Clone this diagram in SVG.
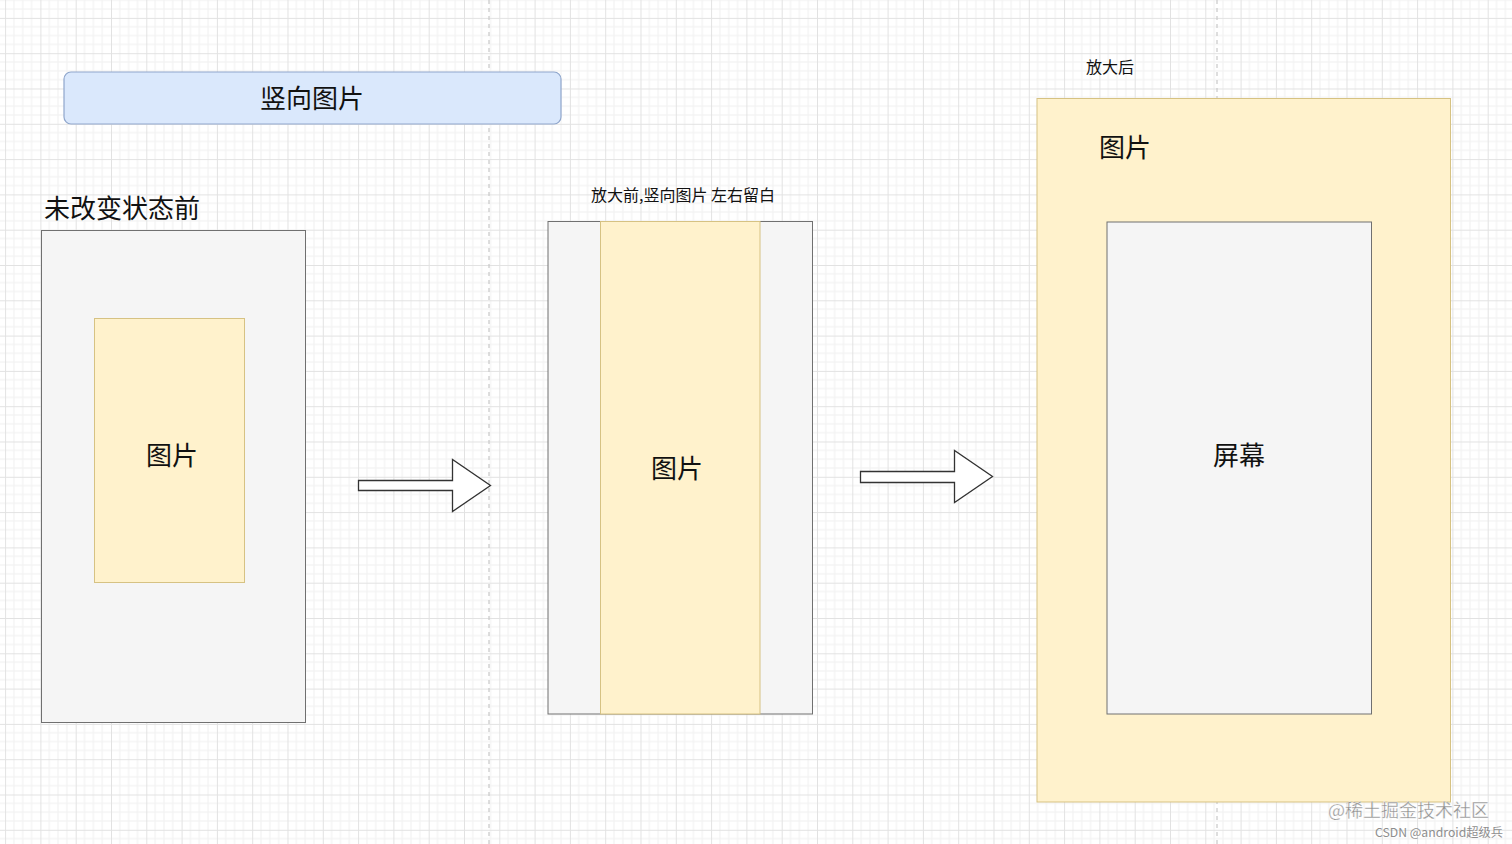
<svg xmlns="http://www.w3.org/2000/svg" width="1512" height="844" viewBox="0 0 1512 844">
  <defs>
    <pattern id="grid" patternUnits="userSpaceOnUse" x="5.1" y="17.9" width="35.3" height="35.3">
      <g stroke="#f0f0f0" stroke-width="1">
        <line x1="8.825" y1="0" x2="8.825" y2="35.3"/>
        <line x1="17.65" y1="0" x2="17.65" y2="35.3"/>
        <line x1="26.475" y1="0" x2="26.475" y2="35.3"/>
        <line x1="0" y1="8.825" x2="35.3" y2="8.825"/>
        <line x1="0" y1="17.65" x2="35.3" y2="17.65"/>
        <line x1="0" y1="26.475" x2="35.3" y2="26.475"/>
      </g>
      <g stroke="#e2e2e2" stroke-width="1">
        <line x1="0.5" y1="0" x2="0.5" y2="35.3"/>
        <line x1="0" y1="0.5" x2="35.3" y2="0.5"/>
      </g>
    </pattern>
    <style>
      .t { font-family: "Noto Sans CJK SC", "Noto Sans", sans-serif; fill: #111; }
      .screen { fill: #f5f5f5; stroke: #707070; stroke-width: 1; }
      .img { fill: #fff2cc; stroke: #d6c283; stroke-width: 1; }
      .arrow { fill: #ffffff; stroke: #333333; stroke-width: 1.3; stroke-linejoin: miter; }
      .page { stroke: #c8c8c8; stroke-width: 1.2; stroke-dasharray: 4 4; }
      .wm { font-family: "Noto Sans CJK SC", "Noto Sans", sans-serif; fill: #8e8e8e; }
    </style>
  </defs>

  <rect x="0" y="0" width="1512" height="844" fill="#ffffff"/>
  <rect x="0" y="0" width="1512" height="844" fill="url(#grid)"/>
  <line class="page" x1="489" y1="0" x2="489" y2="844"/>
  <line class="page" x1="1217" y1="0" x2="1217" y2="844"/>

  <g id="title">
    <rect x="64" y="72" width="497" height="52" rx="7" ry="7" fill="#dae8fc" stroke="#8fa6cc" stroke-width="1.2"/>
    <text class="t" x="312" y="96" font-size="26" text-anchor="middle" dominant-baseline="central">竖向图片</text>
  </g>

  <g id="before-label">
    <text class="t" x="44" y="206" font-size="26" dominant-baseline="central">未改变状态前</text>
  </g>

  <g id="screen-before">
    <rect class="screen" x="41.5" y="230.5" width="264" height="492"/>
  </g>
  <g id="image-before">
    <rect class="img" x="94.5" y="318.5" width="150" height="264"/>
    <text class="t" x="172" y="453" font-size="26" text-anchor="middle" dominant-baseline="central">图片</text>
  </g>

  <g id="middle-label">
    <text class="t" x="683" y="194" font-size="16" text-anchor="middle" dominant-baseline="central">放大前,竖向图片 左右留白</text>
  </g>
  <g id="screen-middle">
    <rect class="screen" x="548" y="221.5" width="264.5" height="492.5"/>
  </g>
  <g id="image-middle">
    <rect class="img" x="600.5" y="221.5" width="159.5" height="492.5"/>
    <text class="t" x="677" y="466" font-size="26" text-anchor="middle" dominant-baseline="central">图片</text>
  </g>

  <g id="after-label">
    <text class="t" x="1086" y="66" font-size="16" dominant-baseline="central">放大后</text>
  </g>
  <g id="image-after">
    <rect class="img" x="1037" y="98.5" width="413.5" height="703.5"/>
    <text class="t" x="1099" y="145" font-size="26" dominant-baseline="central">图片</text>
  </g>
  <g id="screen-after">
    <rect class="screen" x="1107" y="222" width="264.5" height="492"/>
    <text class="t" x="1239" y="453" font-size="26" text-anchor="middle" dominant-baseline="central">屏幕</text>
  </g>

  <g id="connectors">
    <polygon class="arrow" points="358.5,480.5 452.5,480.5 452.5,459.5 490.5,485.5 452.5,511.5 452.5,490.5 358.5,490.5"/>
    <polygon class="arrow" points="860.5,471.5 954.5,471.5 954.5,450.5 992.5,476.5 954.5,502.5 954.5,482.5 860.5,482.5"/>
  </g>

  <g id="watermark">
    <text class="wm" x="1328" y="809" font-size="18" dominant-baseline="central" stroke="#ffffff" stroke-width="0.3">@稀土掘金技术社区</text>
    <text class="wm" x="1375" y="831" font-size="12" dominant-baseline="central" textLength="128" lengthAdjust="spacingAndGlyphs">CSDN @android超级兵</text>
  </g>
</svg>
